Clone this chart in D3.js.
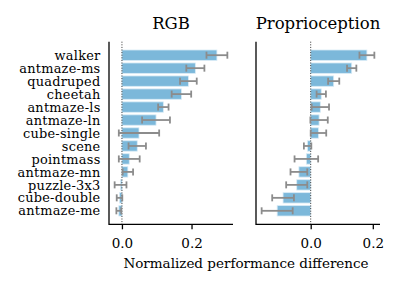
<!DOCTYPE html>
<html>
<head>
<meta charset="utf-8">
<script src="https://cdn.jsdelivr.net/npm/d3@7"></script>
<style>
  body { margin: 0; background: #fff; }
  text { font-family: "DejaVu Serif", serif; fill: #000; }
</style>
</head>
<body>
<div id="chart"></div>
<script>
// task names, top to bottom
var tasks = ["walker", "antmaze-ms", "quadruped", "cheetah", "antmaze-ls", "antmaze-ln",
    "cube-single", "scene", "pointmass", "antmaze-mn", "puzzle-3x3", "cube-double", "antmaze-me"];

// RGB panel: mean difference and error
var rgbMean = [0.273, 0.211, 0.191, 0.171, 0.119, 0.098, 0.049, 0.044, 0.021, 0.017, -0.004, -0.007, -0.009];
var rgbErr  = [0.030, 0.026, 0.024, 0.028, 0.015, 0.040, 0.058, 0.025, 0.030, 0.015, 0.017, 0.008, 0.007];

// Proprioception panel
var propMean = [0.181, 0.132, 0.074, 0.034, 0.031, 0.027, 0.025, -0.010, -0.014, -0.038, -0.045, -0.089, -0.108];
var propErr  = [0.024, 0.015, 0.018, 0.015, 0.028, 0.028, 0.025, 0.012, 0.038, 0.027, 0.034, 0.035, 0.050];

var xTicks = [0, 0.2];

const width = 396;
const height = 287;

var svg = d3.select("#chart")
    .append("svg")
    .attr("width", width)
    .attr("height", height);

// y: row index, matplotlib style margins around the bars
var y = d3.scaleLinear()
    .domain([-1.04, tasks.length - 1 + 1.04])
    .range([41.7, 224.3]);
var barH = 0.8;

function drawPanel(left, right, title, means, errs, showLabels) {
    // x limits from data incl. error bars, plus 5% margin
    var lo = d3.min(means, function(d, i){ return Math.min(0, d - errs[i]); });
    var hi = d3.max(means, function(d, i){ return Math.max(0, d + errs[i]); });
    var pad = (hi - lo) * 0.05;
    var x = d3.scaleLinear()
        .domain([lo - pad, hi + pad])
        .range([left, right]);

    var g = svg.append("g");

    // bars
    g.selectAll("rect")
        .data(means)
        .enter()
        .append("rect")
        .attr("x", function(d){ return Math.min(x(0), x(d)); })
        .attr("y", function(d, i){ return y(i - barH / 2); })
        .attr("width", function(d){ return Math.abs(x(d) - x(0)); })
        .attr("height", y(barH) - y(0))
        .attr("fill", "#7cb8da")
        .attr("stroke", "#d8ebf6")
        .attr("stroke-width", 0.8);

    // zero line
    g.append("line")
        .attr("x1", x(0)).attr("x2", x(0))
        .attr("y1", y.range()[0]).attr("y2", y.range()[1])
        .attr("stroke", "#333")
        .attr("stroke-width", 1)
        .attr("stroke-dasharray", "1,1.6");

    // error bars
    var eb = g.selectAll("g.err")
        .data(means)
        .enter()
        .append("g")
        .attr("class", "err")
        .attr("stroke", "#8c8c8c")
        .attr("stroke-width", 1.8);
    eb.append("line")
        .attr("x1", function(d, i){ return x(d - errs[i]); })
        .attr("x2", function(d, i){ return x(d + errs[i]); })
        .attr("y1", function(d, i){ return y(i); })
        .attr("y2", function(d, i){ return y(i); });
    eb.append("line")
        .attr("x1", function(d, i){ return x(d - errs[i]); })
        .attr("x2", function(d, i){ return x(d - errs[i]); })
        .attr("y1", function(d, i){ return y(i) - 3.5; })
        .attr("y2", function(d, i){ return y(i) + 3.5; });
    eb.append("line")
        .attr("x1", function(d, i){ return x(d + errs[i]); })
        .attr("x2", function(d, i){ return x(d + errs[i]); })
        .attr("y1", function(d, i){ return y(i) - 3.5; })
        .attr("y2", function(d, i){ return y(i) + 3.5; });

    // spines
    g.append("line")
        .attr("x1", left).attr("x2", left)
        .attr("y1", y.range()[0]).attr("y2", y.range()[1] + 0.6)
        .attr("stroke", "#000").attr("stroke-width", 1.3);

    var xAxis = g.append("g")
        .attr("transform", "translate(0," + y.range()[1] + ")")
        .call(d3.axisBottom(x).tickValues(xTicks).tickFormat(d3.format(".1f")).tickSize(5).tickPadding(9));
    xAxis.select(".domain").attr("stroke-width", 1.3).attr("d", "M" + left + ",0H" + right);
    xAxis.selectAll(".tick line").attr("stroke-width", 1.3);
    xAxis.selectAll("text")
        .style("font-family", "DejaVu Serif")
        .style("font-size", "13.5px");

    // task labels
    if (showLabels) {
        g.selectAll("text.lab")
            .data(tasks)
            .enter()
            .append("text")
            .attr("class", "lab")
            .attr("x", left - 8.5)
            .attr("y", function(d, i){ return y(i); })
            .attr("dy", "0.36em")
            .attr("text-anchor", "end")
            .style("font-size", "12.9px")
            .style("letter-spacing", "0.25px")
            .text(function(d){ return d; });
    }

    // title
    g.append("text")
        .attr("x", (left + right) / 2)
        .attr("y", 29)
        .attr("text-anchor", "middle")
        .style("font-size", "16.5px")
        .text(title);
}

drawPanel(109, 233, "RGB", rgbMean, rgbErr, true);
drawPanel(256, 380, "Proprioception", propMean, propErr, false);

svg.append("text")
    .attr("x", 246)
    .attr("y", 268)
    .attr("text-anchor", "middle")
    .style("font-size", "13.5px")
    .text("Normalized performance difference");
</script>
</body>
</html>
